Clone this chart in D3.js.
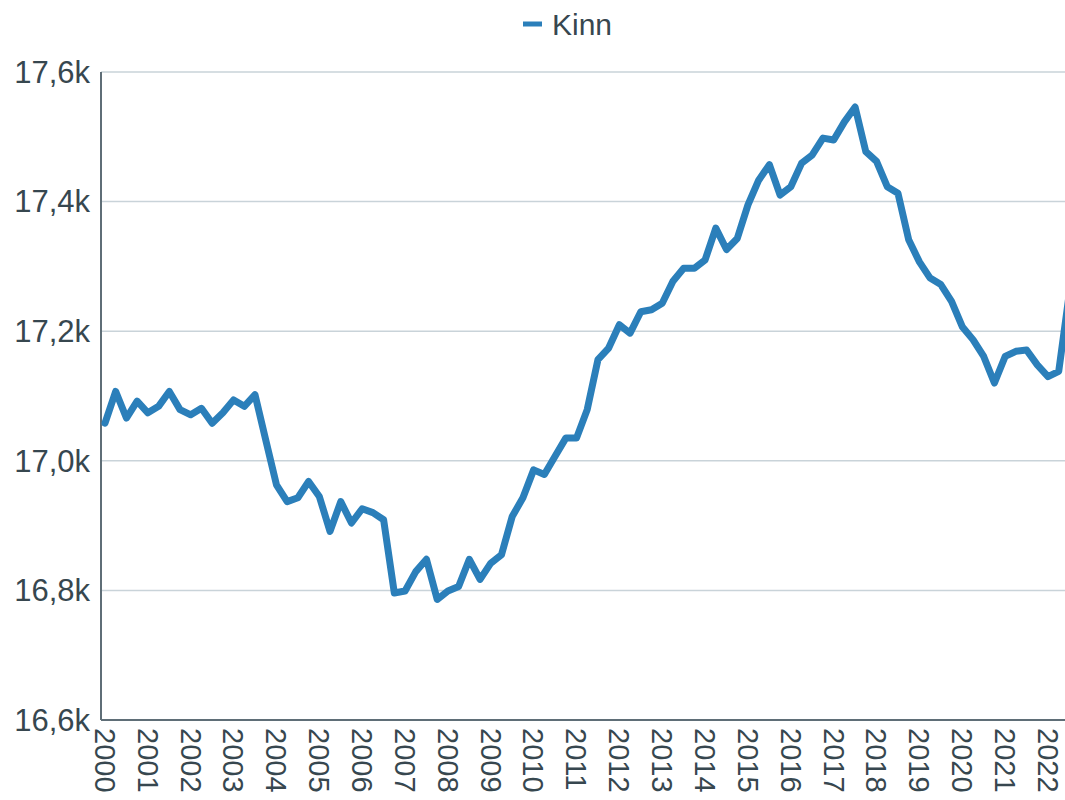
<!DOCTYPE html>
<html>
<head>
<meta charset="utf-8">
<script src="https://cdn.jsdelivr.net/npm/d3@7"></script>
<style>
  body { margin: 0; background: #fff; }
  text { font-family: "Liberation Sans", Arial, sans-serif; fill: #37474f; }
</style>
</head>
<body>
<div id="chart"></div>
<script>
// series name and data (quarterly, starting 2000 Q1)
var seriesName = "Kinn";
var startYear = 2000;
var values = [
  17058, 17107, 17066, 17092, 17074, 17084, 17107, 17079, 17071, 17081,
  17058, 17074, 17094, 17084, 17102, 17032, 16963, 16937, 16943, 16968,
  16945, 16891, 16937, 16904, 16926, 16920, 16909, 16796, 16799, 16829,
  16848, 16786, 16799, 16806, 16848, 16817, 16842, 16855, 16914, 16943,
  16986, 16979, 17007, 17035, 17035, 17079, 17156, 17174, 17210, 17197,
  17230, 17233, 17243, 17277, 17297, 17297, 17310, 17359, 17326, 17343,
  17395, 17433, 17457, 17410, 17423, 17459, 17472, 17498, 17495, 17523,
  17546, 17477, 17462, 17423, 17413, 17341, 17307, 17282, 17272, 17246,
  17207, 17187, 17161, 17120, 17161, 17169, 17171, 17148, 17130, 17138,
  17260
];
var yearTicks = d3.range(2000, 2023);
var yTicks = [16600, 16800, 17000, 17200, 17400, 17600];

var svgWidth = 1065, svgHeight = 800;
var margin = { top: 72, left: 101, bottom: 80 };
var height = svgHeight - margin.bottom; // x axis at 720

var data = values.map((v, i) => ({ t: startYear + i / 4, v: v }));

var svg = d3.select("#chart").append("svg")
    .attr("width", svgWidth)
    .attr("height", svgHeight);

var x = d3.scaleLinear().domain([2000, 2022]).range([105, 1048]);
var y = d3.scaleLinear().domain([16600, 17600]).range([height, margin.top]);

var loc = d3.formatLocale({ decimal: ",", thousands: " ", grouping: [3], currency: ["", ""] });
var fmt = loc.format(".1f");

// grid lines
svg.append("g")
    .selectAll("line")
    .data(yTicks)
    .enter().append("line")
    .attr("x1", margin.left)
    .attr("x2", svgWidth)
    .attr("y1", d => y(d))
    .attr("y2", d => y(d))
    .attr("stroke", "#c9d3d9")
    .attr("stroke-width", 1.5);

// y labels
svg.append("g")
    .selectAll("text")
    .data(yTicks)
    .enter().append("text")
    .attr("x", 90)
    .attr("y", d => y(d))
    .attr("dy", "0.35em")
    .attr("text-anchor", "end")
    .style("font-size", "31px")
    .text(d => fmt(d / 1000) + "k");

// axis lines
svg.append("line")
    .attr("x1", margin.left).attr("x2", margin.left)
    .attr("y1", margin.top).attr("y2", height)
    .attr("stroke", "#5f6e77").attr("stroke-width", 2);
svg.append("line")
    .attr("x1", margin.left).attr("x2", svgWidth)
    .attr("y1", height).attr("y2", height)
    .attr("stroke", "#5f6e77").attr("stroke-width", 2);

// x labels, rotated
svg.append("g")
    .selectAll("text")
    .data(yearTicks)
    .enter().append("text")
    .attr("transform", d => `translate(${x(d)},${height + 8}) rotate(90)`)
    .attr("dy", "0.35em")
    .attr("text-anchor", "start")
    .style("font-size", "29px")
    .text(d => d);

// the line
var line = d3.line()
    .x(d => x(d.t))
    .y(d => y(d.v));

svg.append("path")
    .datum(data)
    .attr("d", line)
    .attr("fill", "none")
    .attr("stroke", "#2b7fba")
    .attr("stroke-width", 7)
    .attr("stroke-linejoin", "round")
    .attr("stroke-linecap", "round");

// legend
var legend = svg.append("g").attr("transform", "translate(523,24)");
legend.append("line")
    .attr("x1", 0).attr("x2", 19)
    .attr("y1", 0).attr("y2", 0)
    .attr("stroke", "#2b7fba")
    .attr("stroke-width", 5);
legend.append("text")
    .attr("x", 29)
    .attr("y", 0)
    .attr("dy", "0.35em")
    .style("font-size", "30px")
    .text(seriesName);
</script>
</body>
</html>
